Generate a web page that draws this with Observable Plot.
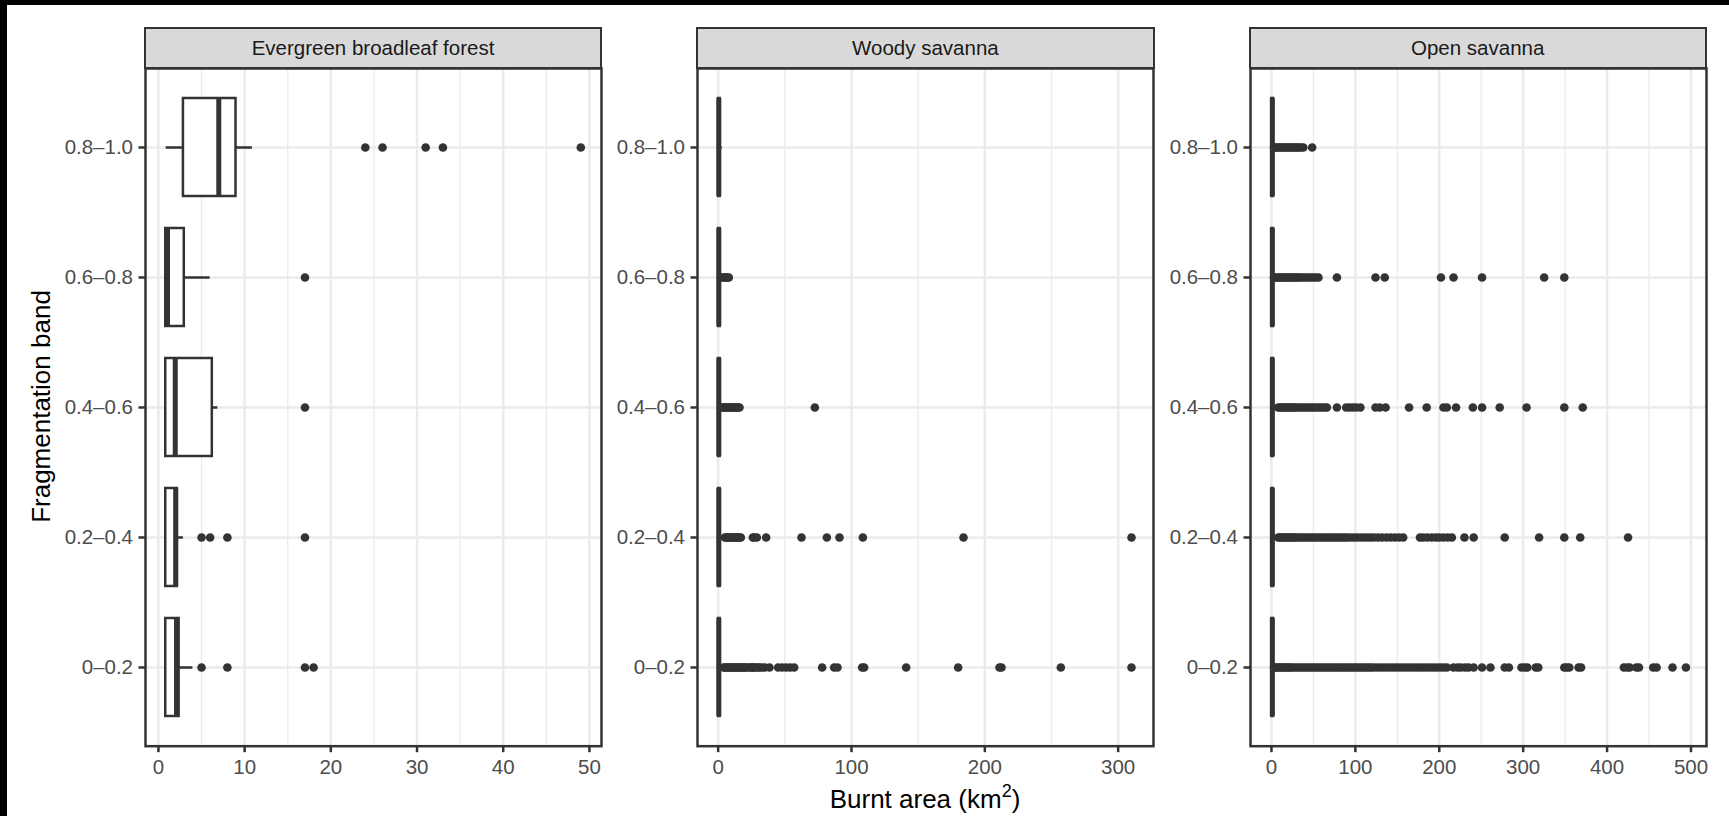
<!DOCTYPE html>
<html><head><meta charset="utf-8">
<script src="https://cdn.jsdelivr.net/npm/d3@7"></script>
<script src="https://cdn.jsdelivr.net/npm/@observablehq/plot@0.6"></script>
<style>
html,body{margin:0;padding:0;}
body{width:1729px;height:816px;background:#000;position:relative;overflow:hidden;font-family:"Liberation Sans",Arial,Helvetica,sans-serif;}
#page{position:absolute;left:7px;top:5px;width:1722px;height:811px;background:#fff;}
.panel{position:absolute;}
.panel svg{overflow:visible;}
.strip{position:absolute;background:#D9D9D9;border:2.4px solid #333;box-sizing:border-box;color:#1A1A1A;font-size:20.5px;display:flex;align-items:center;justify-content:center;font-family:"Liberation Sans",Arial,sans-serif;}
#titles{position:absolute;left:0;top:0;}
</style></head><body><div id="page"></div>
<script>
// ---------------- data ----------------
const bands = ["0.8–1.0", "0.6–0.8", "0.4–0.6", "0.2–0.4", "0–0.2"];
const facets = ["Evergreen broadleaf forest", "Woody savanna", "Open savanna"];

// box summaries per band (same order as bands): [whisker low, Q1, median, Q3, whisker high]
const evergreenBox = [
  [0.9, 2.9, 7.0, 9.0, 10.9],
  [0.85, 0.85, 1.05, 3.0, 6.0],
  [0.85, 0.85, 1.95, 6.25, 6.9],
  [0.85, 0.85, 2.0, 2.2, 2.9],
  [0.85, 0.85, 2.1, 2.4, 4.0]
];
const woodyBox = [
  [0.25, 0.25, 0.5, 1.5, 3],
  [0.25, 0.25, 0.5, 1.5, 3],
  [0.25, 0.25, 0.5, 1.5, 3],
  [0.25, 0.25, 0.5, 1.5, 3],
  [0.25, 0.25, 0.5, 1.5, 3]
];
const openBox = [
  [0.25, 0.5, 1, 2.5, 5],
  [0.25, 0.5, 1, 2.5, 5],
  [0.25, 0.5, 1, 2.5, 5],
  [0.25, 0.5, 1, 2.5, 5],
  [0.25, 0.5, 1, 2.5, 5]
];

// outliers (km²) per band
const evergreenOutliers = [
  [24, 26, 31, 33, 49],
  [17],
  [17],
  [5, 6, 8, 17],
  [5, 8, 17, 18]
];
const woodyOutliers = [
  [],
  [3, 4, 5, 6, 7, 8],
  [3, 4, 5, 6, 7, 8, 9, 10, 11, 12, 13, 14, 15, 16, 72.5],
  [5, 6, 7, 8, 9, 10, 11, 12, 13, 14, 15, 16, 17, 26, 27, 29, 36, 62.5, 81.5, 91, 108.5, 184, 310],
  [4, 5, 6, 7, 8, 9, 10, 11, 12, 13, 14, 15, 16, 17, 18, 19, 20, 21, 22, 24, 25, 26, 27, 28, 30, 31, 33, 35, 38.5, 45, 48, 51, 54, 57, 78, 87, 89.5, 108, 109.5, 141, 180, 211, 212.5, 257, 310]
];
const openOutliers = [
  [3, 5, 7, 9, 11, 13, 15, 17, 19, 21, 23, 25, 27, 29, 31, 33, 35, 38, 48.5],
  [3, 5, 7, 9, 11, 13, 15, 17, 19, 21, 23, 25, 27, 29, 31, 33, 35, 38, 41, 44, 47, 50, 53, 56, 78, 124, 135, 202, 217, 251, 325, 349],
  [8, 10, 12, 14, 16, 18, 20, 22, 24, 26, 28, 30, 33, 36, 39, 42, 45, 48, 51, 54, 57, 60, 63, 66, 78, 89, 93, 97, 101, 106, 124, 129, 136, 164, 185, 205, 209, 220, 240, 251, 272, 304, 349, 371],
  [8, 10, 12, 14, 16, 18, 20, 22, 24, 26, 28, 30, 33, 36, 39, 42, 45, 48, 51, 54, 57, 60, 63, 66, 69, 72, 75, 78, 81, 84, 87, 90, 94, 98, 102, 106, 110, 114, 118, 122, 127, 132, 137, 142, 147, 152, 157, 177, 181, 186, 191, 196, 200, 205, 210, 215, 230, 241, 278, 319, 349, 368, 425],
  [3, 5, 7, 9, 11, 13, 15, 17, 19, 21, 23, 25, 28, 31, 34, 37, 40, 43, 46, 49, 52, 55, 58, 61, 64, 67, 70, 73, 76, 79, 82, 85, 88, 91, 94, 97, 100, 103, 106, 109, 112, 115, 118, 121, 125, 129, 133, 137, 141, 145, 149, 153, 157, 161, 165, 169, 173, 177, 181, 185, 189, 193, 197, 201, 205, 209, 217, 222, 226, 231, 235, 241, 251, 261, 278, 283, 298, 302, 305, 315, 318, 349, 352, 355, 366, 369, 420, 424, 427, 435, 438, 455, 459, 478, 494]
];

// x-axis ticks per facet
const xTicks = [[0, 10, 20, 30, 40, 50], [0, 100, 200, 300], [0, 100, 200, 300, 400, 500]];
const xMinorTicks = [[5, 15, 25, 35, 45], [50, 150, 250], [50, 150, 250, 350, 450]];
const xDomains = [[-1.5, 51.4], [-15.5, 326.5], [-25, 518.5]];

const yTitle = "Fragmentation band";
const xTitle = "Burnt area (km";

// ---------------- layout ----------------
const panelLeft = [145, 697.4, 1249.7];
const panelWidth = 456;
const panelTop = 67.5, panelBottom = 745.2;
const stripTop = 26.5;
const mL = 110, mR = 6, mT = 4, mB = 40;
const FONT = '"Liberation Sans", Arial, Helvetica, sans-serif';
const INK = "#333333";
const LW = 2.5;

const boxSets = [evergreenBox, woodyBox, openBox];
const outlierSets = [evergreenOutliers, woodyOutliers, openOutliers];

facets.forEach((facet, i) => {
  const boxes = bands.map((b, j) => {
    const [lo, q1, med, q3, hi] = boxSets[i][j];
    return {band: b, lo, q1, med, q3, hi};
  });
  const pts = bands.flatMap((b, j) => outlierSets[i][j].map(v => ({band: b, value: v})));
  const w = panelWidth;
  const h = panelBottom - panelTop;
  const chart = Plot.plot({
    width: mL + w + mR,
    height: mT + h + mB,
    marginLeft: mL, marginRight: mR, marginTop: mT, marginBottom: mB,
    style: {fontFamily: FONT, fontSize: "20.5px", background: "transparent", overflow: "visible"},
    x: {domain: xDomains[i], ticks: xTicks[i]},
    y: {type: "band", domain: bands, paddingInner: 0.25, paddingOuter: 0.225, align: 0.5},
    marks: [
      Plot.ruleX(xMinorTicks[i], {stroke: "#EBEBEB", strokeWidth: 1.3}),
      Plot.ruleX(xTicks[i], {stroke: "#EBEBEB", strokeWidth: LW}),
      Plot.gridY({stroke: "#EBEBEB", strokeOpacity: 1, strokeWidth: LW}),
      Plot.dot(pts, {x: "value", y: "band", r: 4.3, fill: INK, stroke: "none"}),
      Plot.ruleY(boxes, {y: "band", x1: "lo", x2: "q1", stroke: INK, strokeWidth: LW}),
      Plot.ruleY(boxes, {y: "band", x1: "q3", x2: "hi", stroke: INK, strokeWidth: LW}),
      Plot.barX(boxes, {y: "band", x1: "q1", x2: "q3", fill: "white", stroke: INK, strokeWidth: LW}),
      Plot.tickX(boxes, {y: "band", x: "med", stroke: INK, strokeWidth: 5}),
      Plot.frame({stroke: INK, strokeWidth: LW}),
      Plot.axisX({ticks: xTicks[i], tickSize: 6.5, tickPadding: 6.5, fill: "#4D4D4D", stroke: INK, strokeWidth: LW, label: null}),
      Plot.axisY({tickSize: 6.5, tickPadding: 6, fill: "#4D4D4D", stroke: INK, strokeWidth: LW, label: null})
    ]
  });
  const div = document.createElement("div");
  div.className = "panel";
  div.style.left = (panelLeft[i] - mL) + "px";
  div.style.top = (panelTop - mT) + "px";
  div.appendChild(chart);
  document.body.appendChild(div);

  const strip = document.createElement("div");
  strip.className = "strip";
  strip.style.left = (panelLeft[i] - 1.2) + "px";
  strip.style.top = stripTop + "px";
  strip.style.width = (w + 2.4) + "px";
  strip.style.height = (panelTop - stripTop + 1.2) + "px";
  strip.textContent = facet;
  document.body.appendChild(strip);
});

// axis titles
const ns = "http://www.w3.org/2000/svg";
const svg = document.createElementNS(ns, "svg");
svg.setAttribute("id", "titles");
svg.setAttribute("width", 1729);
svg.setAttribute("height", 816);
svg.style.fontFamily = FONT;
const yt = document.createElementNS(ns, "text");
yt.setAttribute("transform", "translate(50,406.5) rotate(-90)");
yt.setAttribute("text-anchor", "middle");
yt.setAttribute("font-size", "26");
yt.setAttribute("fill", "#000");
yt.textContent = yTitle;
svg.appendChild(yt);
const xt = document.createElementNS(ns, "text");
xt.setAttribute("x", 925);
xt.setAttribute("y", 808);
xt.setAttribute("text-anchor", "middle");
xt.setAttribute("font-size", "26");
xt.setAttribute("fill", "#000");
const t1 = document.createElementNS(ns, "tspan"); t1.textContent = xTitle;
const t2 = document.createElementNS(ns, "tspan"); t2.textContent = "2"; t2.setAttribute("font-size", "18"); t2.setAttribute("dy", "-11");
const t3 = document.createElementNS(ns, "tspan"); t3.textContent = ")"; t3.setAttribute("dy", "11");
xt.appendChild(t1); xt.appendChild(t2); xt.appendChild(t3);
svg.appendChild(xt);
document.body.appendChild(svg);
</script>
</body></html>
